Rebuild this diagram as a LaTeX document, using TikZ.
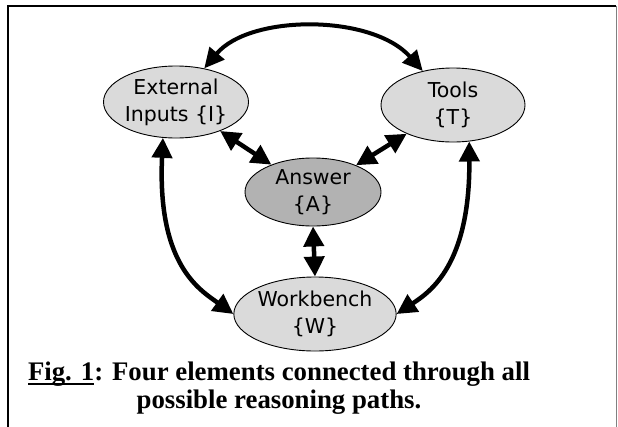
\documentclass[tikz,border=0pt]{standalone}
\usepackage{fontspec}
\setmainfont{Liberation Serif}
\newfontfamily\nodefont{DejaVu Sans}
\usetikzlibrary{shapes.geometric,arrows.meta}
\definecolor{lightel}{HTML}{DADADA}
\definecolor{darkel}{HTML}{B2B2B2}
\newcommand\ulfig[1]{\setbox0\hbox{#1}\rlap{\rule[-5pt]{\wd0}{1.6pt}}\box0}
\begin{document}
\begin{tikzpicture}[x=1pt,y=-1pt,
  elem/.style={ellipse, draw=black, line width=0.9pt, fill=lightel, inner sep=0pt,
    align=center, font=\nodefont\fontsize{20.5}{27}\selectfont},
  link/.style={line width=4.5pt, {Triangle[length=20pt,width=20pt]}-{Triangle[length=20pt,width=20pt]}},
  arc/.style={line width=4pt, {Triangle[length=20pt,width=19pt]}-{Triangle[length=20pt,width=19pt]}}
]
\useasboundingbox (0,0) rectangle (618,426);
% frame
\draw[line width=2pt] (8,432) -- (8,6) -- (616,6);
\draw[gray, line width=0.8pt] (616,6) -- (616,432);
% elements
\node[elem, minimum width=145pt, minimum height=72pt] (ei) at (176,102) {External\\Inputs \{I\}};
\node[elem, minimum width=144pt, minimum height=74pt] (tl) at (453,105) {Tools\\\{T\}};
\node[elem, fill=darkel, minimum width=136pt, minimum height=68pt] (an) at (313,192) {Answer\\\{A\}};
\node[elem, minimum width=146pt, minimum height=74pt] (wb) at (315,314) {Workbench\\\{W\}};
% connectors
\draw[arc] (ei) .. controls (250,14) and (372,14) .. (tl);
\draw[link] (ei) -- (an);
\draw[link] (tl) -- (an);
\draw[link] (an.south) -- (wb.north);
\draw[link] (ei.-110) .. controls (157,265) and (200,290) .. (wb.west);
\draw[link] (tl.-66) .. controls (470,265) and (430,292) .. (wb.east);
% caption
\node[font=\bfseries\fontsize{26.8}{28}\selectfont, align=center, anchor=base] (cap) at (279,408)
  {\ulfig{Fig. 1}: Four elements connected through all\\possible reasoning paths.};
\end{tikzpicture}
\end{document}
